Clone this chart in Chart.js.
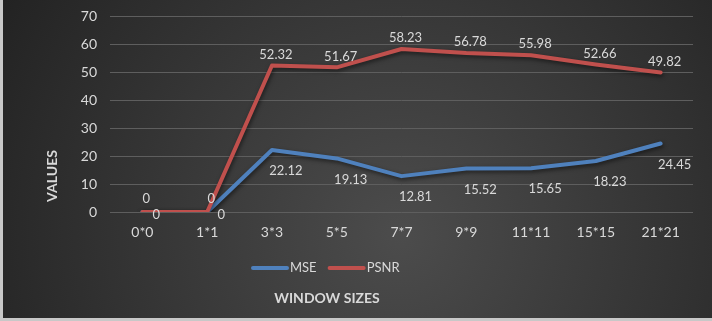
<!DOCTYPE html>
<html>
<head>
<meta charset="utf-8">
<script src="https://cdn.jsdelivr.net/npm/chart.js@4.4.1/dist/chart.umd.min.js"></script>
<style>
  html, body { margin: 0; padding: 0; background: #2a2a2a; }
  #wrap { position: relative; width: 712px; height: 321px; }
</style>
</head>
<body>
<div id="wrap"><canvas id="chart" width="712" height="321"></canvas></div>
<script>
const windowSizes = ["0*0", "1*1", "3*3", "5*5", "7*7", "9*9", "11*11", "15*15", "21*21"];
const mseValues = [0, 0, 22.12, 19.13, 12.81, 15.52, 15.65, 18.23, 24.45];
const psnrValues = [0, 0, 52.32, 51.67, 58.23, 56.78, 55.98, 52.66, 49.82];
const yTicks = [0, 10, 20, 30, 40, 50, 60, 70];

const textColor = "#d9d9d9";
const fontFamily = "Lato, 'Open Sans', sans-serif";

// dark radial background with the thin light frame at left/bottom
const backgroundPlugin = {
    id: "bg",
    beforeDraw(chart) {
        const ctx = chart.ctx;
        const w = chart.width, h = chart.height;
        ctx.save();
        const g = ctx.createRadialGradient(400, 235, 0, 400, 235, 470);
        g.addColorStop(0, "#4c4c4c");
        g.addColorStop(1, "#222222");
        ctx.fillStyle = g;
        ctx.fillRect(0, 0, w, h);
        ctx.fillStyle = "#c8c8c8";
        ctx.fillRect(0, 0, 3, h);
        ctx.fillRect(0, h - 3, w, 3);
        ctx.restore();
    }
};

// soft shadow under the lines
const shadowPlugin = {
    id: "lineShadow",
    beforeDatasetDraw(chart) {
        const ctx = chart.ctx;
        ctx.save();
        ctx.shadowColor = "rgba(0,0,0,0.55)";
        ctx.shadowBlur = 4;
        ctx.shadowOffsetX = 1;
        ctx.shadowOffsetY = 2;
    },
    afterDatasetDraw(chart) {
        chart.ctx.restore();
    }
};

// value labels: PSNR above the point, MSE below and a bit to the right
const labelPlugin = {
    id: "valueLabels",
    afterDatasetsDraw(chart) {
        const ctx = chart.ctx;
        ctx.save();
        ctx.font = "13px " + fontFamily;
        ctx.fillStyle = textColor;
        ctx.textAlign = "center";
        ctx.textBaseline = "middle";
        chart.data.datasets.forEach((ds, i) => {
            const meta = chart.getDatasetMeta(i);
            meta.data.forEach((pt, j) => {
                const v = ds.data[j];
                let dx, dy;
                if (ds.label === "PSNR") {
                    dx = 4;
                    dy = v === 0 ? -13 : -11;
                } else {
                    dx = 14;
                    dy = v === 0 ? 3 : 21;
                }
                ctx.fillText(String(v), pt.x + dx, pt.y + dy);
            });
        });
        ctx.restore();
    }
};

// legend and axis titles placed like the original
const decorPlugin = {
    id: "decor",
    afterDraw(chart) {
        const ctx = chart.ctx;
        ctx.save();
        ctx.fillStyle = textColor;
        ctx.textBaseline = "middle";

        // legend
        ctx.font = "13px " + fontFamily;
        let x = 253;
        const ly = 268;
        chart.data.datasets.forEach(ds => {
            ctx.strokeStyle = ds.borderColor;
            ctx.lineWidth = 4;
            ctx.lineCap = "round";
            ctx.beginPath();
            ctx.moveTo(x, ly);
            ctx.lineTo(x + 34, ly);
            ctx.stroke();
            ctx.textAlign = "left";
            ctx.fillText(ds.label, x + 37, ly);
            x += 37 + ctx.measureText(ds.label).width + 13;
        });

        // x title
        ctx.font = "bold 14px " + fontFamily;
        ctx.textAlign = "center";
        ctx.fillText("WINDOW SIZES", 327, 298);

        // y title
        ctx.translate(52, 176);
        ctx.rotate(-Math.PI / 2);
        ctx.fillText("VALUES", 0, 0);
        ctx.restore();
    }
};

new Chart(document.getElementById("chart"), {
    type: "line",
    data: {
        labels: windowSizes,
        datasets: [
            {
                label: "MSE",
                data: mseValues,
                borderColor: "#4f81bd",
                backgroundColor: "#4f81bd",
                borderWidth: 4,
                borderCapStyle: "round",
                borderJoinStyle: "round",
                pointRadius: 0,
                tension: 0,
                order: 2
            },
            {
                label: "PSNR",
                data: psnrValues,
                borderColor: "#c0504d",
                backgroundColor: "#c0504d",
                borderWidth: 4,
                borderCapStyle: "round",
                borderJoinStyle: "round",
                pointRadius: 0,
                tension: 0,
                order: 1
            }
        ]
    },
    options: {
        responsive: false,
        animation: false,
        layout: {
            padding: { top: 16, right: 19, left: 0, bottom: 0 }
        },
        plugins: {
            legend: { display: false },
            tooltip: { enabled: false }
        },
        scales: {
            x: {
                offset: true,
                grid: { display: false, drawTicks: false },
                border: { display: false },
                ticks: {
                    color: textColor,
                    font: { family: fontFamily, size: 14 },
                    padding: 12,
                    maxRotation: 0,
                    autoSkip: false
                },
                afterFit: s => { s.height = 109; s.paddingLeft = 0; s.paddingRight = 0; }
            },
            y: {
                min: 0,
                max: 70,
                afterBuildTicks: s => { s.ticks = yTicks.map(v => ({ value: v })); },
                grid: { color: "#5e5e5e", lineWidth: 1, drawTicks: false },
                border: { display: false },
                ticks: {
                    color: textColor,
                    font: { family: fontFamily, size: 14 },
                    padding: 13
                },
                afterFit: s => { s.width = 110; s.paddingTop = 0; s.paddingBottom = 0; }
            }
        }
    },
    plugins: [backgroundPlugin, shadowPlugin, labelPlugin, decorPlugin]
});
</script>
</body>
</html>
